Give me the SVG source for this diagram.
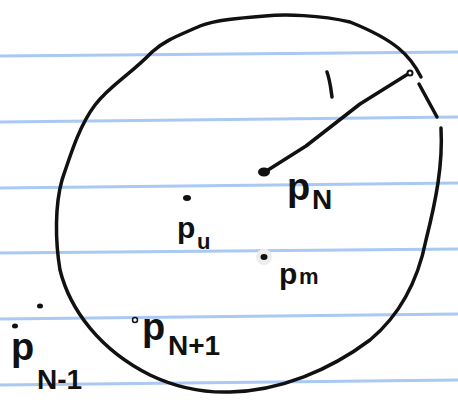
<svg xmlns="http://www.w3.org/2000/svg" width="458" height="412" viewBox="0 0 458 412">
<style>
.rule{stroke:#a9c8f2;stroke-width:3;fill:none}
.ink{stroke:#111;stroke-width:3.5;fill:none;stroke-linecap:round;stroke-linejoin:round}
.lbl{font-family:"Liberation Sans",Arial,sans-serif;fill:#111;font-weight:bold}
</style>
<rect width="458" height="412" fill="#fff"/>
<g id="rules">
<path class="rule" d="M0 56 L458 52"/>
<path class="rule" d="M0 122 L458 117"/>
<path class="rule" d="M0 188 L458 183"/>
<path class="rule" d="M0 253 L458 249"/>
<path class="rule" d="M0 319 L458 314"/>
<path class="rule" d="M0 385 L458 380"/>
</g>
<g id="circle">
<path class="ink" d="M421 77 C410 55 395 40 350 22 C320 15 285 14 265 16 C240 18 215 20 200 26 C180 35 165 40 152 52 C130 75 110 85 95 105 C80 125 72 150 62 180 C55 205 55 240 60 270 C70 310 100 350 150 375 C175 387 200 393 230 392 C280 391 330 370 370 340 C400 315 418 280 426 240 C436 200 443 165 441 128"/>
<path class="ink" d="M419 84 L437 117"/>
</g>
<g id="radius">
<path class="ink" d="M268 170 L306 146 L360 104 L408 74" stroke-width="3"/>
<circle cx="410" cy="73" r="2.5" fill="#fff" stroke="#111" stroke-width="2"/>
<path class="ink" d="M327 72 C330 80 331 90 332 97"/>
</g>
<g id="pN">
<ellipse cx="264" cy="172" rx="6" ry="4.5" fill="#111"/>
<text class="lbl"><tspan x="287" y="200" font-size="38">p</tspan><tspan x="312" y="209" font-size="28">N</tspan></text>
</g>
<g id="pu">
<ellipse cx="187" cy="198" rx="4" ry="3" fill="#111"/>
<text class="lbl"><tspan x="177" y="238" font-size="30">p</tspan><tspan x="197" y="249" font-size="22">u</tspan></text>
</g>
<g id="pm">
<circle cx="264" cy="257" r="8" fill="#eee"/>
<ellipse cx="264" cy="257" rx="3.5" ry="3" fill="#111"/>
<text class="lbl"><tspan x="279" y="284" font-size="30">p</tspan><tspan x="299" y="284" font-size="22">m</tspan></text>
</g>
<g id="pN1">
<circle cx="135" cy="320" r="2.5" fill="#fff" stroke="#111" stroke-width="1.5"/>
<text class="lbl"><tspan x="142" y="340" font-size="38">p</tspan><tspan x="168" y="355" font-size="28">N+1</tspan></text>
</g>
<g id="pNm1">
<ellipse cx="40" cy="306" rx="3" ry="2.5" fill="#111"/>
<ellipse cx="15" cy="326" rx="3" ry="2.5" fill="#111"/>
<text class="lbl"><tspan x="11" y="360" font-size="38">p</tspan><tspan x="37" y="389" font-size="28">N-1</tspan></text>
</g>
</svg>
